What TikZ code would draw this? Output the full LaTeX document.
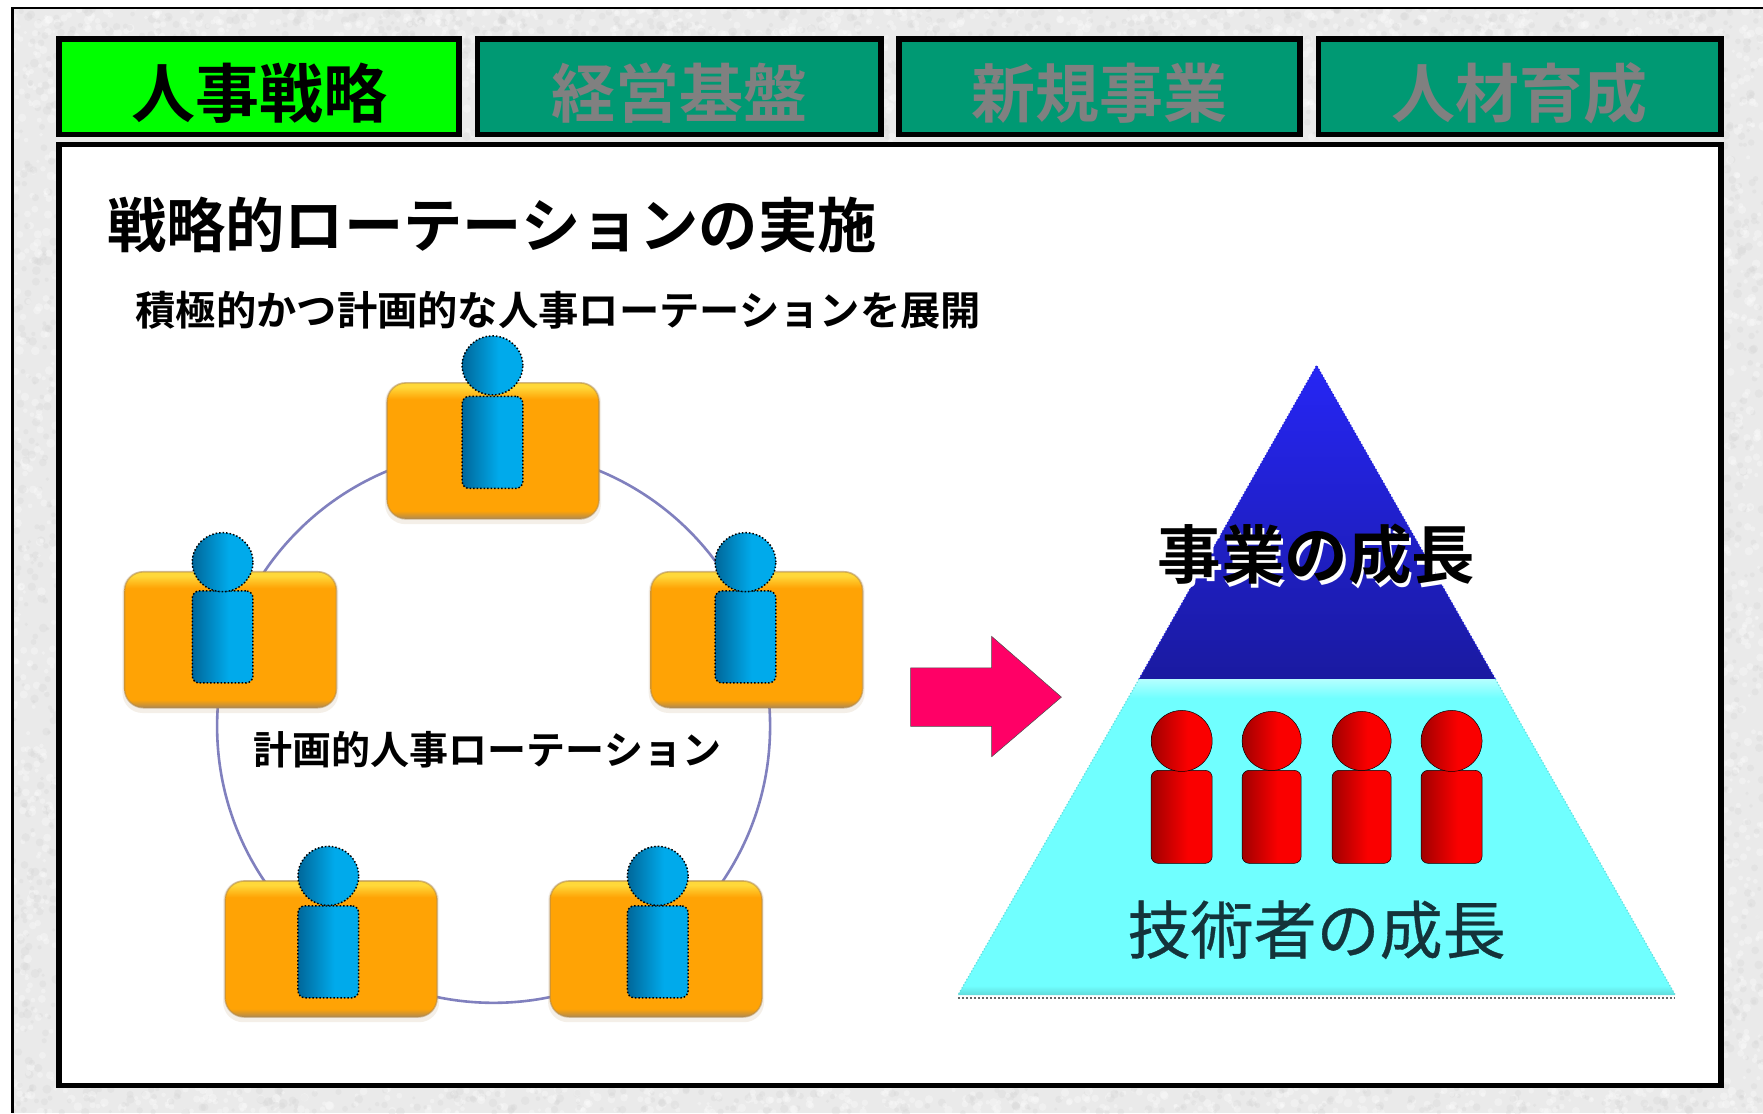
\documentclass[tikz,border=0pt]{standalone}
\usepackage{fontspec}
\usetikzlibrary{shapes.geometric}
\setmainfont{Noto Sans CJK JP}[BoldFont={Noto Sans CJK JP Bold}]
\newfontfamily\medcjk{Noto Sans CJK JP}[FakeBold=0.5]
\definecolor{tabgreen}{HTML}{009973}
\definecolor{tablive}{HTML}{00FF00}
\definecolor{tabgrey}{HTML}{808080}
\definecolor{ringc}{HTML}{8080BE}
\definecolor{boxo}{HTML}{FFA305}
\definecolor{boxy}{HTML}{FFD83A}
\definecolor{boxb}{HTML}{B08A50}
\definecolor{pinkc}{HTML}{FF0066}
\definecolor{cyanc}{HTML}{70FFFF}
\definecolor{cyanl}{HTML}{B5FFFF}
\definecolor{cyand}{HTML}{60DCDC}
\definecolor{blue1}{HTML}{2626F5}
\definecolor{blue2}{HTML}{1A1AA0}
\definecolor{tealdark}{HTML}{14333A}
\definecolor{bgc}{HTML}{EAEAEA}
\definecolor{specklec}{HTML}{D4D4D4}
\definecolor{pblued}{HTML}{00679A}
\definecolor{pbluel}{HTML}{00AAEB}
\definecolor{predd}{HTML}{A00000}
\definecolor{predl}{HTML}{FA0000}
\pgfdeclareverticalshading{orangeshade}{100bp}{color(0bp)=(boxb);color(25bp)=(boxb);color(28bp)=(boxo);color(69bp)=(boxo);color(73.5bp)=(boxy);color(75bp)=(boxy);color(100bp)=(boxy)}
\pgfdeclareverticalshading{baseshade}{100bp}{color(0bp)=(cyand);color(25bp)=(cyand);color(26.5bp)=(cyanc);color(72bp)=(cyanc);color(75bp)=(cyanl);color(100bp)=(cyanl)}
\pgfdeclarehorizontalshading{blueperson}{100bp}{color(0bp)=(pblued);color(25bp)=(pblued);color(55bp)=(pbluel);color(75bp)=(pbluel);color(100bp)=(pbluel)}
\pgfdeclarehorizontalshading{redperson}{100bp}{color(0bp)=(predd);color(25bp)=(predd);color(55bp)=(predl);color(75bp)=(predl);color(100bp)=(predl)}
\newcommand{\tabtext}[1]{\raisebox{-31pt}[0pt][0pt]{#1}}
\tikzset{
  x=1.1244pt,y=-1.1244pt,
  tabbox/.style={draw=black,line width=5.6pt,inner sep=0pt,minimum height=95.6pt,font=\bfseries\fontsize{64pt}{64pt}\selectfont},
  orangebox/.style={rectangle,rounded corners=19pt,shading=orangeshade,draw=boxb,draw opacity=.55,line width=1.6pt,minimum width=212pt,minimum height=136pt,inner sep=0pt,outer sep=0pt},
  boxshadow/.style={rectangle,rounded corners=20pt,fill=boxb,fill opacity=.13,minimum width=216pt,minimum height=142pt,inner sep=0pt},
  phead/.style={ellipse,draw=black,dotted,line width=1.5pt,shading=blueperson,minimum width=60.7pt,minimum height=59pt,inner sep=0pt},
  pbody/.style={rectangle,rounded corners=7pt,draw=black,dotted,line width=1.5pt,shading=blueperson,minimum width=60.7pt,minimum height=92pt,inner sep=0pt},
  rhead/.style={circle,draw=black,line width=.5pt,shading=redperson,minimum size=60pt,inner sep=0pt},
  rbody/.style={rectangle,rounded corners=7pt,draw=black,line width=.5pt,shading=redperson,minimum width=60pt,minimum height=93pt,inner sep=0pt},
}
\newcommand{\bluepersonat}[4]{%
  \node[pbody] (#1b) at (#2,#4) {};
  \node[phead] (#1h) at (#2,#3) {};
}
\newcommand{\orangeat}[3]{%
  \node[boxshadow] (#1s) at (#2,#3+2) {};
  \node[orangebox] (#1) at (#2,#3) {};
}
\newcommand{\redpersonat}[3]{%
  \node[rbody] (#1b) at (#2,726.5) [minimum width=#3] {};
  \node[rhead] (#1h) at (#2,659) [minimum size=#3] {};
}
\begin{document}
\begin{tikzpicture}
\useasboundingbox (0,0) rectangle (1568,990);
\fill[white] (0,0) rectangle (1568,990);
\fill[bgc] (11,7) rectangle (1568,990);
\pgfmathsetseed{1234}
\foreach \xa/\xb/\ya/\yb/\n in {11/1568/7/32/800,11/50/32/968/500,1533/1568/32/968/450,11/1568/968/990/700,411/422/32/126/20,786/797/32/126/20,1159/1170/32/126/20}{
  \foreach \i in {1,...,\n}{
    \pgfmathsetmacro{\px}{\xa+rnd*(\xb-\xa)}
    \pgfmathsetmacro{\py}{\ya+rnd*(\yb-\ya)}
    \pgfmathsetmacro{\sz}{1.5+rnd*2.5}
    \pgfmathparse{rnd>0.45?1:0}
    \ifnum\pgfmathresult=1
      \fill[white,opacity=.3] (\px,\py) circle (\sz);
    \else
      \fill[specklec,opacity=.3] (\px,\py) circle (\sz);
    \fi
  }
}
\fill[white] (0,0) rectangle (1568,7);
\fill[white] (0,0) rectangle (11,990);
\draw[black,line width=2.6pt] (1568,7) -- (11,7) -- (11,990);

\node[tabbox,fill=tablive,text=black,minimum width=400pt] (tabA) at (230.5,77) {\tabtext{人事戦略}};
\node[tabbox,fill=tabgreen,text=tabgrey,minimum width=403.6pt] (tabB) at (604,77) {\tabtext{経営基盤}};
\node[tabbox,fill=tabgreen,text=tabgrey,minimum width=401pt] (tabC) at (978,77) {\tabtext{新規事業}};
\node[tabbox,fill=tabgreen,text=tabgrey,minimum width=402.5pt] (tabD) at (1351.5,77) {\tabtext{人材育成}};
\node[draw=black,fill=white,line width=5.6pt,minimum width=1662pt,minimum height=941pt,inner sep=0pt] (panel) at (791.5,547) {};

\node[anchor=center,font=\bfseries\fontsize{59.3pt}{60pt}\selectfont,inner sep=0pt] (title) at (437.5,200) {戦略的ローテーションの実施};
\node[anchor=center,font=\bfseries\fontsize{40.3pt}{41pt}\selectfont,inner sep=0pt] (sub) at (496.5,276) {積極的かつ計画的な人事ローテーションを展開};

\node[circle,draw=ringc,line width=2.6pt,minimum size=553pt,inner sep=0pt] (ring) at (439,646) {};
\orangeat{boxT}{438.5}{401}
\orangeat{boxL}{205}{569}
\orangeat{boxR}{673}{569}
\orangeat{boxBL}{294.5}{844}
\orangeat{boxBR}{583.5}{844}

\bluepersonat{pT}{438}{325}{393.5}
\bluepersonat{pL}{198}{500}{566.5}
\bluepersonat{pR}{663}{500}{566.5}
\bluepersonat{pBL}{292}{779}{846.5}
\bluepersonat{pBR}{585}{779}{846.5}

\node[anchor=center,font=\bfseries\fontsize{39pt}{40pt}\selectfont,inner sep=0pt] (ringlabel) at (433.5,667) {計画的人事ローテーション};

\draw[draw=black!70,line width=.5pt,fill=pinkc] (810,594) -- (882,594) -- (882,566) -- (944,620) -- (882,673) -- (882,646) -- (810,646) -- cycle;

\shade[top color=blue1,bottom color=blue2] (1171,325) -- (1330,604) -- (1013,604) -- cycle;
\draw[blue1!70!blue2,line width=1.2pt,dotted] (1013,604) -- (1171,325) -- (1330,604);
\shade[shading=baseshade] (1013,604) -- (1330,604) -- (1490,885) -- (852,885) -- cycle;
\draw[cyand,line width=1.2pt,dotted] (1013,604) -- (852,885);
\draw[cyand,line width=1.2pt,dotted] (1330,604) -- (1490,885);
\draw[black!60,line width=2pt,dotted] (852,888) -- (1490,888);

\node[text=black,font=\bfseries\fontsize{63.5pt}{64pt}\selectfont,inner sep=0pt] (growth) at (1171,495) {\makebox[0pt][l]{\hspace{2.5pt}\raisebox{-4pt}{\textcolor{white}{事業の成長}}}事業の成長};

\redpersonat{rA}{1051}{61pt}
\redpersonat{rB}{1131}{59pt}
\redpersonat{rC}{1211}{59pt}
\redpersonat{rD}{1291}{61pt}

\node[text=tealdark,font=\medcjk\fontsize{63pt}{64pt}\selectfont,inner sep=0pt] (engineers) at (1171,827) {技術者の成長};
\end{tikzpicture}
\end{document}
